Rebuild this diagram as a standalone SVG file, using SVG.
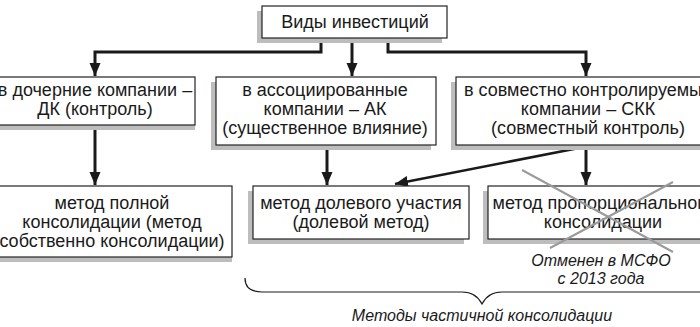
<svg xmlns="http://www.w3.org/2000/svg" width="700" height="327" viewBox="0 0 700 327">
<style>
.box{fill:#fff;stroke:#222;stroke-width:1.2}
.sh{fill:#bdbdbd}
.t{font-family:"Liberation Sans",Arial,sans-serif;font-size:18px;fill:#1a1a1a;text-anchor:middle}
.it{font-family:"Liberation Sans",Arial,sans-serif;font-size:16px;font-style:italic;fill:#1a1a1a;text-anchor:middle}
.c{fill:none;stroke:#1a1a1a;stroke-width:3}
.cross{stroke:#9a9a9a;stroke-width:2;fill:none}
</style>
<defs>
<marker id="ah" markerUnits="userSpaceOnUse" markerWidth="14" markerHeight="14" viewBox="0 0 14 14" refX="13" refY="7" orient="auto">
<path d="M0,1.5 L13,7 L0,12.5 Z" fill="#1a1a1a"/>
</marker>
</defs>
<rect width="700" height="327" fill="#fff"/>
<g id="connectors">
<path class="c" d="M321,38 V52 H95 V76" marker-end="url(#ah)"/>
<path class="c" d="M352,38 V76" marker-end="url(#ah)"/>
<path class="c" d="M388,38 V52 H586 V76" marker-end="url(#ah)"/>
<path class="c" d="M95,125 V185" marker-end="url(#ah)"/>
<path class="c" d="M327,145 V185" marker-end="url(#ah)"/>
<path class="c" d="M586,145 V185" marker-end="url(#ah)"/>
<path class="c" style="stroke-width:2.5" d="M584,147 L395,184" marker-end="url(#ah)"/>
</g>
<g id="n-top">
<rect class="sh" x="257" y="11" width="185" height="32"/>
<rect class="box" x="262" y="6" width="185" height="32"/>
<text class="t" x="355" y="28">Виды инвестиций</text>
</g>
<g id="n-dk">
<rect class="sh" x="-10" y="82" width="205" height="48"/>
<rect class="box" x="-5" y="77" width="200" height="48"/>
<text class="t" x="95" y="96">в дочерние компании –</text>
<text class="t" x="95" y="115">ДК (контроль)</text>
</g>
<g id="n-ak">
<rect class="sh" x="211" y="82" width="220" height="68"/>
<rect class="box" x="216" y="77" width="220" height="68"/>
<text class="t" x="325" y="96">в ассоциированные</text>
<text class="t" x="325" y="115">компании – АК</text>
<text class="t" x="325" y="134">(существенное влияние)</text>
</g>
<g id="n-skk">
<rect class="sh" x="451" y="82" width="270" height="68"/>
<rect class="box" x="456" y="77" width="270" height="68"/>
<text class="t" x="588" y="96">в совместно контролируемые</text>
<text class="t" x="588" y="115">компании – СКК</text>
<text class="t" x="588" y="134">(совместный контроль)</text>
</g>
<g id="n-full">
<rect class="sh" x="-10" y="191" width="242" height="71"/>
<rect class="box" x="-5" y="186" width="237" height="71"/>
<text class="t" x="112" y="209">метод полной</text>
<text class="t" x="112" y="228">консолидации (метод</text>
<text class="t" x="112" y="247">собственно консолидации)</text>
</g>
<g id="n-equity">
<rect class="sh" x="248" y="191" width="216" height="53"/>
<rect class="box" x="253" y="186" width="216" height="53"/>
<text class="t" x="361" y="209">метод долевого участия</text>
<text class="t" x="361" y="228">(долевой метод)</text>
</g>
<g id="n-prop">
<rect class="sh" x="483" y="191" width="235" height="53"/>
<rect class="box" x="488" y="186" width="235" height="53"/>
<text class="t" x="603" y="209">метод пропорционального</text>
<text class="t" x="603" y="228">консолидации</text>
<line class="cross" x1="522" y1="170" x2="673" y2="252"/>
<line class="cross" x1="673" y1="182" x2="550" y2="248"/>
</g>
<g id="n-note">
<text class="it" x="601" y="266">Отменен в МСФО</text>
<text class="it" x="601" y="284">с 2013 года</text>
</g>
<g id="n-brace">
<path d="M245,278 Q245,292 262,292 L462,292 Q476,292 482,304 Q488,292 502,292 L720,292" fill="none" stroke="#1a1a1a" stroke-width="1.2"/>
<text class="it" x="482" y="321">Методы частичной консолидации</text>
</g>
</svg>
